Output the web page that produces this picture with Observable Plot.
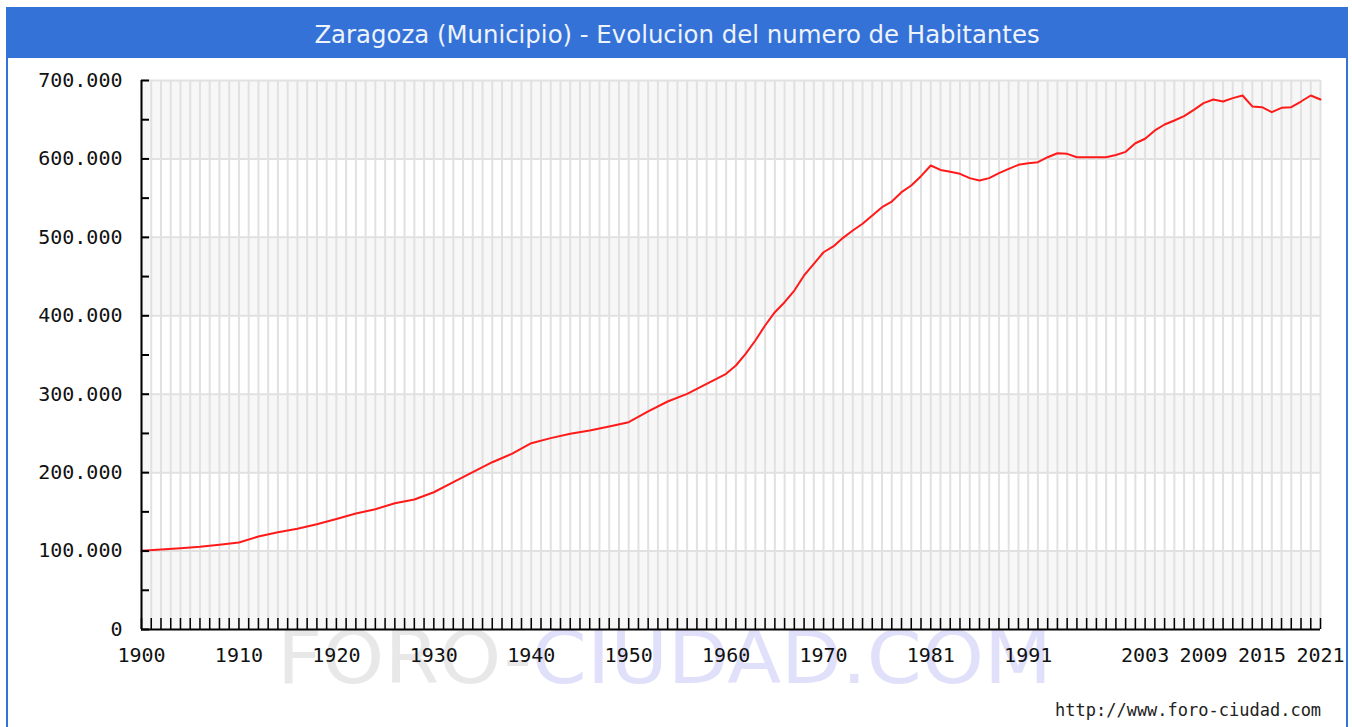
<!DOCTYPE html>
<html>
<head>
<meta charset="utf-8">
<script src="https://cdn.jsdelivr.net/npm/d3@7"></script>
<script src="https://cdn.jsdelivr.net/npm/@observablehq/plot@0.6"></script>
<style>
  html, body { margin: 0; padding: 0; background: #fff; }
  #page { position: relative; width: 1352px; height: 727px; overflow: hidden; }
  #header { position: absolute; left: 6px; top: 7px; width: 1342px; height: 51px; background: #3472d7; overflow: hidden;
    color: #eef3fc; font-family: "DejaVu Sans", sans-serif; font-size: 24.4px; line-height: 56px; text-align: center; }
  #frame { position: absolute; left: 6px; top: 7px; width: 1338px; height: 760px;
    border-left: 2px solid #3472d7; border-right: 2px solid #3472d7; pointer-events: none; z-index: 5; }
  #watermark { position: absolute; left: 0; top: 0; z-index: 0; }
  #chart { position: absolute; left: 0; top: 58px; z-index: 1; }
  #footer { position: absolute; left: 1055px; top: 700px; z-index: 2; font-family: "DejaVu Sans Mono", monospace;
    font-size: 17px; color: #222; }
</style>
</head>
<body>
<div id="page">
  <svg id="watermark" width="1352" height="727">
    <text x="277" y="683" textLength="775" lengthAdjust="spacingAndGlyphs" font-family="DejaVu Sans" font-size="73"><tspan fill="#e8e8e8">FORO-</tspan><tspan fill="#e0e0fa">CIUDAD.COM</tspan></text>
  </svg>
  <div id="header">Zaragoza (Municipio) - Evolucion del numero de Habitantes</div>
  <div id="chart"></div>
  <div id="footer">http://www.foro-ciudad.com</div>
  <div id="frame"></div>
</div>
<script>
// ---- Data ----
const years = [
  1900, 1902, 1904, 1906, 1908, 1910, 1912, 1914, 1916, 1918,
  1920, 1922, 1924, 1926, 1928, 1930, 1932, 1934, 1936, 1938,
  1940, 1942, 1944, 1946, 1948, 1950, 1952, 1954, 1956, 1958,
  1960, 1961, 1962, 1963, 1964, 1965, 1966, 1967, 1968, 1969,
  1970, 1971, 1972, 1973, 1974, 1975, 1976, 1977, 1978, 1979,
  1980, 1981, 1982, 1983, 1984, 1985, 1986, 1987, 1988, 1989,
  1990, 1991, 1992, 1993, 1994, 1995, 1996, 1997, 1998, 1999,
  2000, 2001, 2002, 2003, 2004, 2005, 2006, 2007, 2008, 2009,
  2010, 2011, 2012, 2013, 2014, 2015, 2016, 2017, 2018, 2019,
  2020, 2021
];
const habitantes = [
  100300, 102000, 103700, 105400, 108000, 111000, 118600, 124000, 128400, 134300,
  141000, 148000, 153400, 161000, 165800, 175000, 187800, 200600, 213300, 224000,
  237500, 244000, 249500, 253700, 258800, 264300, 278000, 290700, 300500, 313300,
  326000, 336600, 351500, 368500, 387600, 404600, 417300, 432200, 451400, 466300,
  481000, 488400, 499400, 508700, 517300, 527900, 538500, 545700, 557600, 566100,
  578000, 591600, 586000, 583600, 581000, 575500, 572500, 575500, 581800, 587400,
  592500, 594600, 595900, 602200, 607300, 606500, 602200, 602200, 602200, 602200,
  605000, 609000, 620000, 625700, 636300, 643900, 649000, 654500, 662600, 671100,
  675800, 673200, 677500, 680900, 666900, 666000, 659600, 665200, 666000, 673200,
  680900, 675800
];
const xDomain = [1900, 2021];
const yDomain = [0, 700000];
const xTickLabels = [1900, 1910, 1920, 1930, 1940, 1950, 1960, 1970, 1981, 1991, 2003, 2009, 2015, 2021];
const yTickLabels = [0, 100000, 200000, 300000, 400000, 500000, 600000, 700000];
const yMinorTicks = [0, 50000, 100000, 150000, 200000, 250000, 300000, 350000, 400000, 450000, 500000, 550000, 600000, 650000, 700000];
const bandStarts = [0, 200000, 400000, 600000];
const gridYears = d3.range(xDomain[0], xDomain[1] + 1);

const data = years.map((y, i) => ({year: y, pop: habitantes[i]}));
const fmt = d3.formatLocale({decimal: ",", thousands: ".", grouping: [3], currency: ["", " €"]}).format(",");

const W = 1352, H = 669, mL = 141, mR = 32, mT = 22, mB = 98;
const plotW = W - mL - mR, plotH = H - mT - mB;
const xTickLen = 11, yTickLen = 8;

const chart = Plot.plot({
  width: W,
  height: H,
  marginLeft: mL,
  marginRight: mR,
  marginTop: mT,
  marginBottom: mB,
  x: {domain: xDomain, axis: null},
  y: {domain: yDomain, axis: null},
  style: {background: "transparent", fontFamily: "DejaVu Sans Mono, monospace", fontSize: "20px", color: "#111"},
  marks: [
    Plot.rect(bandStarts, {x1: () => xDomain[0], x2: () => xDomain[1], y1: d => d, y2: d => d + 100000, fill: "#f7f7f7"}),
    Plot.ruleX(gridYears, {stroke: "#e1e1e1", strokeWidth: 2}),
    Plot.ruleY(yTickLabels.slice(1), {stroke: "#e1e1e1", strokeWidth: 2}),
    Plot.line(data, {x: "year", y: "pop", stroke: "#ff1a1a", strokeWidth: 2}),
    Plot.ruleX([xDomain[0]], {stroke: "#000", strokeWidth: 2}),
    Plot.ruleY([0], {stroke: "#000", strokeWidth: 2}),
    Plot.ruleY(yMinorTicks, {stroke: "#000", strokeWidth: 2, insetRight: plotW - yTickLen}),
    Plot.ruleX(gridYears, {stroke: "#000", strokeWidth: 1.5, insetTop: plotH - xTickLen}),
    Plot.text(yTickLabels, {x: () => xDomain[0], y: d => d, text: d => fmt(d), textAnchor: "end", dx: -19, fill: "#111"}),
    Plot.text(xTickLabels, {x: d => d, y: () => 0, text: d => String(d), dy: 26, fill: "#111"})
  ]
});
document.getElementById("chart").appendChild(chart);
</script>
</body>
</html>
